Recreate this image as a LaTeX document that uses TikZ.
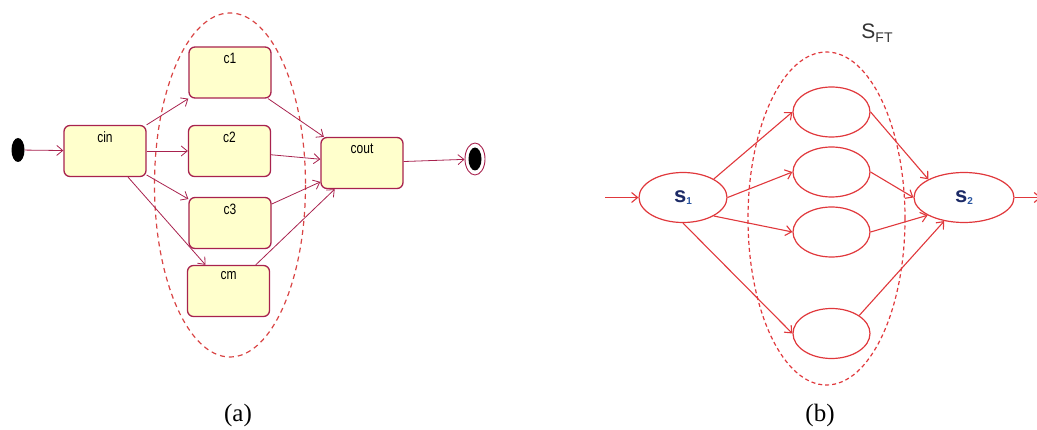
\documentclass[tikz,border=0pt]{standalone}
\usepackage{fontspec}
\setmainfont{Liberation Serif}
\setsansfont{Liberation Sans}
\newfontfamily\statefont[FakeStretch=0.8]{Liberation Sans}
\usepackage{xcolor}
\usetikzlibrary{shapes.geometric,arrows.meta}
\definecolor{umlline}{HTML}{A8224E}
\definecolor{umlfill}{HTML}{FFFFCC}
\definecolor{setred}{HTML}{D94444}
\definecolor{netred}{HTML}{E0383C}
\definecolor{labnavy}{HTML}{1C2A66}
\definecolor{labblue}{HTML}{2A55A0}
\definecolor{labgray}{HTML}{333333}

\begin{document}
\begin{tikzpicture}[y=-1pt,x=1pt,
	umlstate/.style={draw=umlline, fill=umlfill, line width=1.3pt, rounded corners=6pt,
		minimum width=82pt, minimum height=51pt, inner sep=0pt,
		label={[anchor=north, inner sep=6.5pt, font=\statefont\fontsize{15}{15}\selectfont]north:#1}},
	umlarrow/.style={draw=umlline, line width=0.8pt, -{Straight Barb[length=6pt,width=10pt]}},
	netstate/.style={draw=netred, ellipse, line width=1.2pt, minimum width=77pt, minimum height=50pt,
		inner sep=0pt, text=labnavy, font=\sffamily\bfseries\fontsize{22}{22}\selectfont},
	netarrow/.style={draw=netred, line width=1.1pt, -{Straight Barb[length=6pt,width=10pt]}},
	caption/.style={font=\fontsize{25}{25}\selectfont}]
	\newcommand\StateName[1]{s\raisebox{-1.5pt}{\color{labblue}\fontsize{10}{10}\selectfont #1}}

	\useasboundingbox (0,0) rectangle (1037,430);

	% (a) state chart
	\draw[setred, line width=1.2pt, dash pattern=on 5pt off 4pt] (230,185) ellipse [x radius=75.5, y radius=172];

	\node[fill=black, ellipse, minimum width=13pt, minimum height=24pt, inner sep=0pt] (start) at (18,150) {};
	\node[umlstate=cin] (cin) at (105,151) {};
	\node[umlstate=c1] (c1) at (230,72.5) {};
	\node[umlstate=c2] (c2) at (229.5,151) {};
	\node[umlstate=c3] (c3) at (230,223) {};
	\node[umlstate=cm] (cm) at (228.5,291) {};
	\node[umlstate=cout] (cout) at (362,163) {};
	\node[draw=umlline, ellipse, line width=0.9pt, minimum width=20pt, minimum height=32pt, inner sep=0pt] (stop) at (475,159) {};
	\node[fill=black, ellipse, minimum width=13pt, minimum height=23pt, inner sep=0pt] (stopdot) at (stop) {};

	\draw[umlarrow] (start) -- (cin);
	\draw[umlarrow] (cin) -- (c1);
	\draw[umlarrow] (cin) -- (c2);
	\draw[umlarrow] (cin) -- (c3);
	\draw[umlarrow] (cin) -- (cm);
	\draw[umlarrow] (c1) -- (cout);
	\draw[umlarrow] (c2) -- (cout);
	\draw[umlarrow] (c3) -- (cout);
	\draw[umlarrow] (cm) -- (cout);
	\draw[umlarrow] (cout) -- (stop);

	\node[caption] (capa) at (238,415.5) {(a)};

	% (b) fault tolerant set
	\draw[netred, line width=1.2pt, dash pattern=on 4pt off 3pt] (826.5,218.5) ellipse [x radius=78.5, y radius=166.5];
	\node[font=\sffamily\fontsize{21}{21}\selectfont, text=labgray] (sft) at (877,33) {S\raisebox{-4pt}{\fontsize{14}{14}\selectfont FT}};

	\node[netstate, minimum width=88pt] (s1) at (683,197.5) {\StateName{1}};
	\node[netstate] (e1) at (831.5,112) {};
	\node[netstate] (e2) at (831.5,172) {};
	\node[netstate] (e3) at (831.5,232) {};
	\node[netstate] (e4) at (831.5,333.5) {};
	\node[netstate, minimum width=100pt] (s2) at (964,197.5) {\StateName{2}};
	\coordinate (in) at (605,197.5);
	\coordinate (out) at (1041,197.5);

	\draw[netarrow] (in) -- (s1.west);
	\draw[netarrow] (s1.31) -- (e1.west);
	\draw[netarrow] (s1.east) -- (e2.west);
	\draw[netarrow] (s1.-31) -- (e3.west);
	\draw[netarrow] (s1.south) -- (e4.west);
	\draw[netarrow] (e1.east) -- (s2.153);
	\draw[netarrow] (e2.east) -- (s2.west);
	\draw[netarrow] (e3.east) -- (s2.206);
	\draw[netarrow] (e4.33) -- (s2.230);
	\draw[netarrow] (s2.east) -- (out);

	\node[caption] (capb) at (820,415.5) {(b)};
\end{tikzpicture}
\end{document}
